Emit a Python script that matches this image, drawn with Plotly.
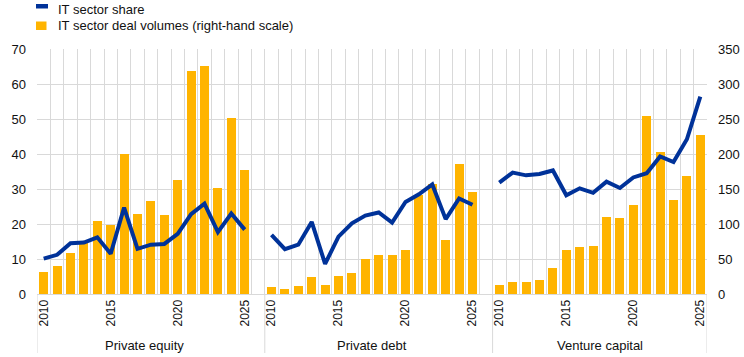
import plotly.graph_objects as go

years = list(range(2010, 2026))
panels = ["Private equity", "Private debt", "Venture capital"]

# IT sector deal volumes (right-hand scale)
pe_vol = [32, 40, 58.6, 73.7, 103.7, 98, 200, 115, 133, 113, 163, 318.6, 326, 152, 251.5, 177]
pd_vol = [10.5, 7.6, 11.9, 24.7, 13.3, 26.2, 30.4, 50.4, 56.1, 56.1, 63.2, 140.8, 157.4, 77.5, 186, 146]
vc_vol = [13.3, 17.6, 17.6, 20.4, 37.6, 63.2, 67.5, 69, 110.3, 108.9, 127.4, 254.4, 203, 134.6, 168.8, 227.3]

# IT sector share (left-hand scale)
pe_share = [10.1, 11.2, 14.5, 14.7, 16.2, 11.5, 24.7, 12.9, 14.1, 14.3, 17.2, 22.8, 25.8, 17.7, 23.0, 18.4]
pd_share = [16.9, 12.8, 14.1, 20.6, 8.6, 16.4, 20.2, 22.4, 23.3, 20.4, 26.3, 28.5, 31.3, 21.4, 27.3, 25.5]
vc_share = [31.8, 34.7, 33.9, 34.3, 35.3, 28.2, 30.2, 28.9, 32.1, 30.3, 33.3, 34.5, 39.3, 37.7, 44.2, 56.4]

label_years = [2010, 2015, 2020, 2025]

vols = [pe_vol, pd_vol, vc_vol]
shares = [pe_share, pd_share, vc_share]

BLUE = "#003299"
YELLOW = "#FFB400"
GRID = "#d9d9d9"
FONT = "Liberation Sans, Arial, sans-serif"
TXT = "#111111"

n = len(years)
stride = n + 1
nslots = stride * len(panels) - 1

bar_x, bar_y, line_x, line_y = [], [], [], []
tickvals, ticktext = [], []
for p in range(len(panels)):
    for i, yr in enumerate(years):
        x = p * stride + i
        bar_x.append(x)
        bar_y.append(vols[p][i])
        line_x.append(x)
        line_y.append(shares[p][i])
        if yr in label_years:
            tickvals.append(x)
            ticktext.append(str(yr))
    line_x.append(None)
    line_y.append(None)

fig = go.Figure()
# bars on the primary (right-side) axis, line on the overlaying left axis so it draws on top
fig.add_trace(go.Bar(x=bar_x, y=bar_y, width=0.67, marker=dict(color=YELLOW, line=dict(width=0)),
                     yaxis="y", showlegend=False, name="IT sector deal volumes (right-hand scale)"))
fig.add_trace(go.Scatter(x=line_x, y=line_y, mode="lines", line=dict(color=BLUE, width=4),
                         yaxis="y2", connectgaps=False, showlegend=False, name="IT sector share"))

W, H = 744, 357
ML, MR, MT, MB = 37, 37, 49, 63
PW, PH = W - ML - MR, H - MT - MB

def fx(px):
    return (px - ML) / PW

def fy(py):
    return 1 - (py - MT) / PH

shapes = []
annotations = []
# separators below the axis (outer edges and the gaps between panels)
bounds = [-0.5] + [p * stride + n + 0.5 for p in range(len(panels) - 1)] + [nslots - 0.5]
for b in bounds:
    shapes.append(dict(type="line", xref="x", yref="paper", x0=b, x1=b, y0=0, y1=fy(353),
                       line=dict(color=GRID, width=1)))
# group labels
for p, name in enumerate(panels):
    cx = p * stride + (n - 1) / 2
    annotations.append(dict(x=cx, y=fy(345), xref="x", yref="paper", text=name, showarrow=False,
                            font=dict(size=13, color=TXT, family=FONT), xanchor="center", yanchor="middle"))

# legend
shapes.append(dict(type="rect", xref="paper", yref="paper", x0=fx(36), x1=fx(48), y0=fy(8.5), y1=fy(4),
                   fillcolor=BLUE, line=dict(width=0)))
shapes.append(dict(type="rect", xref="paper", yref="paper", x0=fx(36), x1=fx(46.5), y0=fy(30), y1=fy(21.5),
                   fillcolor=YELLOW, line=dict(width=0)))
annotations.append(dict(x=fx(56), y=fy(9.5), xref="paper", yref="paper", text="IT sector share",
                        showarrow=False, xanchor="left", yanchor="middle",
                        font=dict(size=13, color=TXT, family=FONT)))
annotations.append(dict(x=fx(56), y=fy(25.7), xref="paper", yref="paper",
                        text="IT sector deal volumes (right-hand scale)",
                        showarrow=False, xanchor="left", yanchor="middle",
                        font=dict(size=13, color=TXT, family=FONT)))

fig.update_layout(
    width=W, height=H,
    margin=dict(l=ML, r=MR, t=MT, b=MB, autoexpand=False),
    paper_bgcolor="white", plot_bgcolor="white",
    font=dict(family=FONT, size=13, color=TXT),
    bargap=0,
    shapes=shapes,
    annotations=annotations,
    xaxis=dict(range=[-0.5, nslots - 0.5], tickmode="array", tickvals=tickvals, ticktext=ticktext,
               tickangle=-90, tickfont=dict(size=12, color=TXT, family=FONT), showgrid=False,
               ticks="", showline=True, linecolor=GRID, linewidth=1, zeroline=False,
               minor=dict(tickmode="array", tickvals=[k - 0.5 for k in range(nslots + 1)],
                          showgrid=True, gridcolor=GRID, gridwidth=1, ticks="")),
    yaxis=dict(range=[0, 350], dtick=50, side="right", showgrid=True, gridcolor=GRID, gridwidth=1,
               zeroline=False, ticks="", ticklabelstandoff=10, tickfont=dict(size=13, color=TXT, family=FONT)),
    yaxis2=dict(range=[0, 70], dtick=10, overlaying="y", side="left", showgrid=False, zeroline=False,
                ticks="", ticklabelstandoff=10, tickfont=dict(size=13, color=TXT, family=FONT)),
)

fig.write_html("out.html", config={"displayModeBar": False},
               post_script="document.body.style.margin='0';")
